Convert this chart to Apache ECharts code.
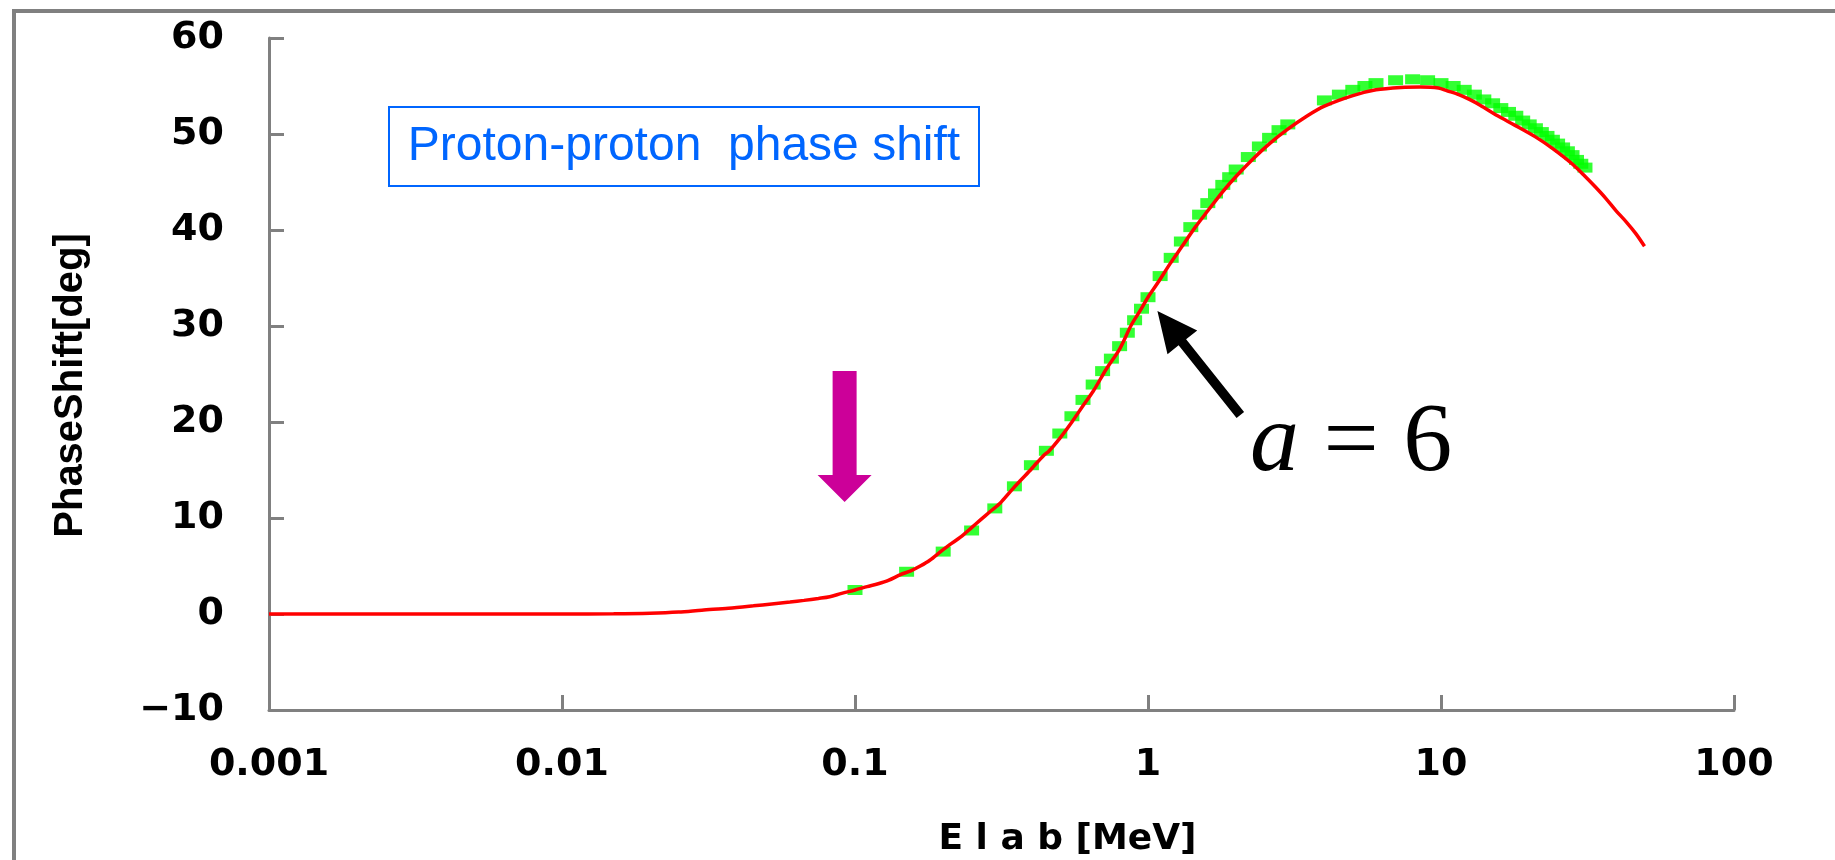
<!DOCTYPE html>
<html><head><meta charset="utf-8">
<script src="https://cdn.jsdelivr.net/npm/echarts@6/dist/echarts.min.js"></script>
<style>html,body{margin:0;padding:0;background:#fff;overflow:hidden}#c{width:1835px;height:860px}</style>
</head><body><div id="c"></div>
<script>
// ---- tick labels ----
const xTickLabels = ['0.001', '0.01', '0.1', '1', '10', '100'];
const yTickLabels = ['\u221210', '0', '10', '20', '30', '40', '50', '60'];

// ---- red curve (model, a = 6): E [MeV] and phase shift [deg] ----
const redE = [0.001, 0.005, 0.01, 0.015, 0.02, 0.025, 0.03, 0.037, 0.045, 0.052, 0.06, 0.067, 0.075, 0.082, 0.09,
  0.1, 0.11, 0.12, 0.13, 0.143, 0.155, 0.167, 0.18, 0.196, 0.21, 0.229, 0.25, 0.268, 0.29, 0.314, 0.34, 0.367,
  0.4, 0.416, 0.443, 0.457, 0.5, 0.55, 0.6, 0.65, 0.72, 0.8, 0.877, 0.94, 1.0, 1.08, 1.19, 1.3, 1.45, 1.6, 1.8,
  2.0, 2.3, 2.6, 3.0, 3.5, 4.0, 5.0, 6.0, 7.3, 8.5, 9.8, 10.5, 11.5, 12.5, 13.6, 15.6, 17.9, 21, 24, 28, 31,
  33.6, 36.5, 39.6, 43, 46.3, 49.5];
const redDelta = [0, 0, 0, 0.02, 0.08, 0.2, 0.4, 0.6, 0.85, 1.05, 1.25, 1.42, 1.62, 1.8, 2.15,
  2.5, 2.85, 3.15, 3.5, 4.1, 4.5, 5.0, 5.6, 6.5, 7.2, 8.0, 9.0, 9.8, 10.7, 11.6, 12.8, 13.9,
  15.1, 15.7, 16.6, 16.9, 18.3, 20.0, 21.7, 23.2, 25.5, 27.6, 30.1, 31.6, 33.0, 34.5, 36.5, 38.2, 40.3, 42.0, 44.0,
  45.6, 47.5, 49.0, 50.5, 51.9, 52.9, 54.0, 54.6, 54.85, 54.9, 54.8, 54.5, 54.1, 53.6, 53.0, 51.9, 50.9, 49.7, 48.5, 46.9, 45.6,
  44.5, 43.3, 42.0, 40.8, 39.6, 38.3];

// ---- green points (experimental data) ----
const greenE = [0.1, 0.15, 0.2, 0.25, 0.3, 0.35, 0.4, 0.45, 0.5, 0.55, 0.6, 0.65, 0.7, 0.75, 0.8, 0.85, 0.9, 0.95,
  1.0, 1.1, 1.2, 1.3, 1.4, 1.5, 1.6, 1.7, 1.8, 1.9, 2.0, 2.2, 2.4, 2.6, 2.8, 3.0,
  4.0, 4.5, 5.0, 5.5, 6.0, 7.0, 8.0, 9.0, 10, 11, 12, 13, 14, 15, 16, 17, 18, 19, 20, 21, 22, 23, 24, 25,
  26, 27, 28, 29, 30, 31];
const greenDelta = [2.5, 4.4, 6.5, 8.7, 11.0, 13.3, 15.5, 17.0, 18.8, 20.6, 22.3, 23.9, 25.3, 26.6, 27.9, 29.3, 30.6, 31.8,
  33.0, 35.2, 37.1, 38.8, 40.3, 41.6, 42.8, 43.8, 44.7, 45.5, 46.3, 47.6, 48.7, 49.6, 50.4, 51.0,
  53.5, 54.1, 54.6, 55.0, 55.3, 55.6, 55.7, 55.6, 55.3, 55.0, 54.6, 54.1, 53.6, 53.2, 52.7, 52.3, 51.9, 51.4, 51.0, 50.6, 50.2, 49.8, 49.4, 49.0,
  48.6, 48.2, 47.8, 47.3, 46.9, 46.5];

// ---- annotations (data coordinates) ----
const blackArrowTail = [2.066, 20.73];
const blackArrowTip = [1.0768, 31.56];
const pinkArrowTop = [0.09216, 25.31];
const pinkArrowTip = [0.09216, 11.67];

const chart = echarts.init(document.getElementById('c'), null, {renderer: 'canvas'});
const gray = '#808080';
const labelFont = {fontFamily: 'DejaVu Sans', fontWeight: 'bold', fontSize: 38, color: '#000'};

chart.setOption({
  animation: false,
  backgroundColor: '#fff',
  grid: {left: 269, right: 101, top: 38, bottom: 150, containLabel: false, outerBoundsMode: 'none'},
  xAxis: {
    type: 'log', logBase: 10, min: 0.001, max: 100,
    axisLine: {onZero: false, lineStyle: {color: gray, width: 3}},
    axisTick: {inside: true, length: 15, lineStyle: {color: gray, width: 3}},
    minorTick: {show: false}, splitLine: {show: false},
    axisLabel: Object.assign({margin: 36, formatter: v => xTickLabels[Math.round(Math.log10(v)) + 3]}, labelFont),
    name: 'E l a b [MeV]', nameLocation: 'middle', nameGap: 112, nameMoveOverlap: false,
    nameTextStyle: {fontFamily: 'DejaVu Sans', fontWeight: 'bold', fontSize: 36, color: '#000', padding: [0, 0, 0, 132]}
  },
  yAxis: {
    type: 'value', min: -10, max: 60, interval: 10,
    axisLine: {show: true, onZero: false, lineStyle: {color: gray, width: 3}},
    axisTick: {show: true, inside: true, length: 15, lineStyle: {color: gray, width: 3}},
    splitLine: {show: false},
    axisLabel: Object.assign({margin: 45, formatter: v => yTickLabels[Math.round((v + 10) / 10)]}, labelFont),
    name: 'PhaseShift[deg]', nameLocation: 'middle', nameRotate: 90, nameGap: 178, nameMoveOverlap: false,
    nameTextStyle: {fontFamily: 'Liberation Sans', fontWeight: 'bold', fontSize: 40, color: '#000', padding: [0, 23, 0, 0]}
  },
  series: [
    {
      name: 'data', type: 'scatter', z: 2,
      symbol: 'rect', symbolSize: [15, 10],
      itemStyle: {color: '#00ff00'},
      data: greenE.map((e, i) => [e, greenDelta[i]])
    },
    {
      name: 'a = 6', type: 'line', z: 3, showSymbol: false, smooth: 0.3,
      lineStyle: {color: '#ff0000', width: 3.5},
      data: redE.map((e, i) => [e, redDelta[i]])
    }
  ]
});

function px(p) { return chart.convertToPixel({gridIndex: 0}, p); }

// black arrow polygon
const T = px(blackArrowTip), S = px(blackArrowTail);
let dx = T[0] - S[0], dy = T[1] - S[1];
const len = Math.hypot(dx, dy); const ux = dx / len, uy = dy / len; const nx = -uy, ny = ux;
const HL = 40, HW = 19, SW = 4.8;
const bx = T[0] - ux * HL, by = T[1] - uy * HL;
const blackPts = [
  [S[0] + nx * SW, S[1] + ny * SW], [bx + nx * SW, by + ny * SW], [bx + nx * HW, by + ny * HW], [T[0], T[1]],
  [bx - nx * HW, by - ny * HW], [bx - nx * SW, by - ny * SW], [S[0] - nx * SW, S[1] - ny * SW]
];

// magenta arrow polygon
const P = px(pinkArrowTop), Q = px(pinkArrowTip);
const pHL = 27, pHW = 27, pSW = 12;
const pinkPts = [
  [P[0] - pSW, P[1]], [P[0] + pSW, P[1]], [P[0] + pSW, Q[1] - pHL], [P[0] + pHW, Q[1] - pHL],
  [Q[0], Q[1]], [P[0] - pHW, Q[1] - pHL], [P[0] - pSW, Q[1] - pHL]
];

chart.setOption({
  graphic: [
    {type: 'rect', silent: true, z: -10, shape: {x: 14, y: 11, width: 1900, height: 900},
      style: {fill: 'none', stroke: gray, lineWidth: 4}},
    {type: 'rect', silent: true, z: 10, shape: {x: 389, y: 107, width: 590, height: 79},
      style: {fill: '#fff', stroke: '#0066ff', lineWidth: 2}},
    {type: 'text', silent: true, z: 11, x: 684, y: 147,
      style: {text: 'Proton-proton  phase shift', fontFamily: 'Liberation Sans', fontSize: 48, fill: '#0066ff',
        align: 'center', verticalAlign: 'middle'}},
    {type: 'polygon', silent: true, z: 10, shape: {points: blackPts}, style: {fill: '#000'}},
    {type: 'polygon', silent: true, z: 10, shape: {points: pinkPts}, style: {fill: '#cc0099'}},
    {type: 'text', silent: true, z: 11, x: 1250, y: 444,
      style: {text: '{i|a} = 6', fontFamily: 'Liberation Serif', fontSize: 98, fill: '#000',
        align: 'left', verticalAlign: 'middle',
        rich: {i: {fontFamily: 'Liberation Serif', fontStyle: 'italic', fontSize: 98, fill: '#000', color: '#000'}}}}
  ]
});
</script>
</body></html>
